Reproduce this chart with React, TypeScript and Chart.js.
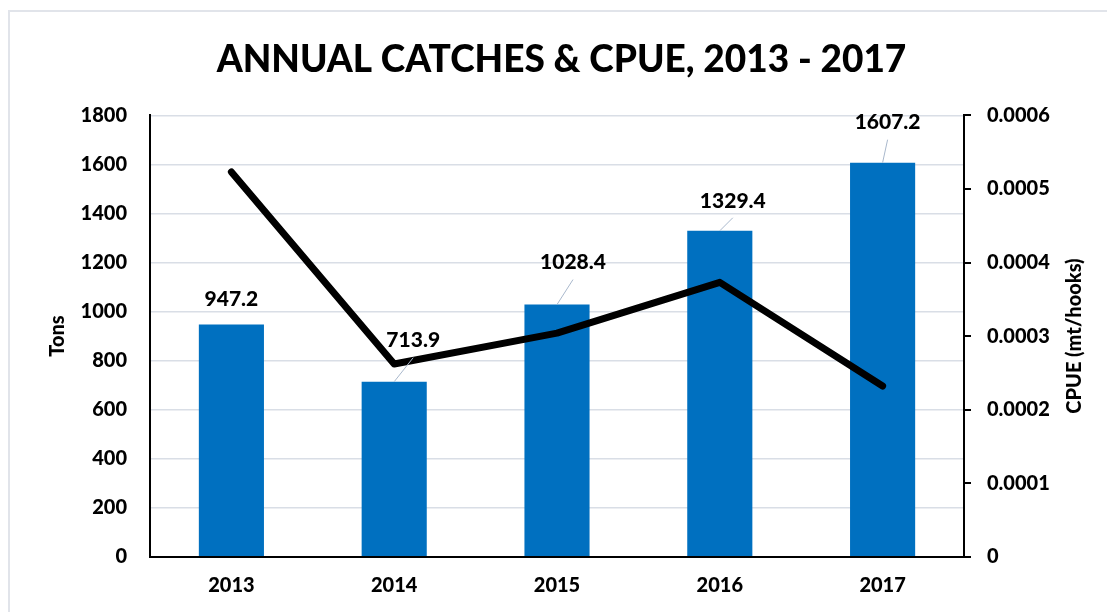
import { useEffect, useRef } from "react";
import { Chart, registerables } from "chart.js";

Chart.register(...registerables);

const years = ["2013", "2014", "2015", "2016", "2017"];
const catchesTons = [947.2, 713.9, 1028.4, 1329.4, 1607.2];
const cpueValues = [0.000523, 0.000262, 0.000304, 0.000373, 0.000232];
const catchLabels = ["947.2", "713.9", "1028.4", "1329.4", "1607.2"];

const titleText = "ANNUAL CATCHES & CPUE, 2013 - 2017";
const leftAxisTitle = "Tons";
const rightAxisTitle = "CPUE (mt/hooks)";

const FONT = "Lato, 'Open Sans', sans-serif";
const W = "900";
// label offsets (dx, dy) from bar top to label centre — styling only
const LABEL_OFFSETS: [number, number, boolean][] = [
  [0, -25, false],
  [19, -41, true],
  [16, -42, true],
  [13, -30, true],
  [5, -40, true],
];

const overlayPlugin = {
  id: "overlay",
  afterDatasetsDraw(chart: any) {
    const ctx = chart.ctx;
    const meta = chart.getDatasetMeta(0);
    ctx.save();
    meta.data.forEach((el: any, i: number) => {
      const [dx, dy, leader] = LABEL_OFFSETS[i];
      const lx = el.x + dx;
      const ly = el.y + dy;
      if (leader) {
        ctx.strokeStyle = "#A9B8CC";
        ctx.lineWidth = 1;
        ctx.beginPath();
        ctx.moveTo(el.x, el.y);
        ctx.lineTo(lx, ly + 17);
        ctx.stroke();
      }
      ctx.fillStyle = "#000";
      ctx.font = `${W} 21px ${FONT}`;
      ctx.textAlign = "center";
      ctx.textBaseline = "middle";
      ctx.fillText(catchLabels[i], lx, ly);
    });
    const area = chart.chartArea;
    const cy = (area.top + area.bottom) / 2;
    ctx.font = `${W} 20px ${FONT}`;
    ctx.fillStyle = "#000";
    ctx.textAlign = "center";
    ctx.textBaseline = "middle";
    ctx.save();
    ctx.translate(50, cy);
    ctx.rotate(-Math.PI / 2);
    ctx.fillText(leftAxisTitle, 0, 0);
    ctx.restore();
    ctx.save();
    ctx.font = `${W} 20px ${FONT}`;
    ctx.translate(1067, cy);
    ctx.rotate(-Math.PI / 2);
    ctx.fillText(rightAxisTitle, 0, 0);
    ctx.restore();
    ctx.restore();
  },
};

export default function App() {
  const ref = useRef<HTMLCanvasElement | null>(null);
  useEffect(() => {
    if (!ref.current) return;
    const chart = new Chart(ref.current, {
      type: "bar",
      data: {
        labels: years,
        datasets: [
          {
            type: "bar",
            label: "Catches",
            data: catchesTons,
            backgroundColor: "#0070C0",
            borderWidth: 0,
            categoryPercentage: 1,
            barPercentage: 0.4,
            yAxisID: "y",
            order: 1,
          },
          {
            type: "line",
            label: "CPUE",
            data: cpueValues,
            borderColor: "#000",
            borderWidth: 7,
            pointRadius: 0,
            tension: 0,
            borderCapStyle: "round",
            borderJoinStyle: "round",
            yAxisID: "y1",
            order: 0,
          },
        ],
      },
      options: {
        animation: false,
        responsive: false,
        maintainAspectRatio: false,
        layout: { padding: 0 },
        plugins: {
          legend: { display: false },
          tooltip: { enabled: false },
          title: {
            display: true,
            text: titleText,
            color: "#000",
            font: { family: FONT, size: 37, weight: W },
            padding: { top: 30, bottom: 33 },
          },
        },
        scales: {
          x: {
            grid: { display: false, drawTicks: false },
            border: { display: true, color: "#000", width: 2 },
            ticks: {
              color: "#000",
              padding: 17,
              font: { family: FONT, size: 20, weight: W },
            },
            afterFit: (s: any) => {
              s.height = 55.3;
            },
          },
          y: {
            position: "left",
            min: 0,
            max: 1800,
            grid: { color: "#D9DEE6", lineWidth: 1.5, drawTicks: false },
            border: { display: true, color: "#000", width: 2 },
            ticks: {
              stepSize: 200,
              color: "#000",
              padding: 23,
              font: { family: FONT, size: 20, weight: W },
              callback: (v: any) => String(Math.round(Number(v))),
            },
            afterFit: (s: any) => {
              s.width = 142;
            },
          },
          y1: {
            position: "right",
            min: 0,
            max: 0.0006,
            grid: {
              drawOnChartArea: false,
              drawTicks: true,
              tickLength: 7,
              color: "#000",
              lineWidth: 2,
            },
            border: { display: true, color: "#000", width: 2 },
            ticks: {
              stepSize: 0.0001,
              color: "#000",
              padding: 16,
              font: { family: FONT, size: 20, weight: W },
              callback: (v: any) => (Number(v) === 0 ? "0" : Number(v).toFixed(4)),
            },
            afterFit: (s: any) => {
              s.width = 151;
            },
          },
        },
      },
      plugins: [overlayPlugin],
    } as any);
    return () => chart.destroy();
  }, []);
  return (
    <div style={{ position: "relative", width: 1107, height: 604 }}>
      <div
        style={{
          position: "absolute",
          top: 2,
          left: 0,
          width: 1120,
          height: 620,
          borderTop: "2px solid #E1E4EA",
          borderLeft: "2px solid #E1E4EA",
        }}
      />
      <canvas
        ref={ref}
        width={1107}
        height={604}
        style={{ position: "absolute", top: 0, left: 0, width: 1107, height: 604 }}
      />
    </div>
  );
}
